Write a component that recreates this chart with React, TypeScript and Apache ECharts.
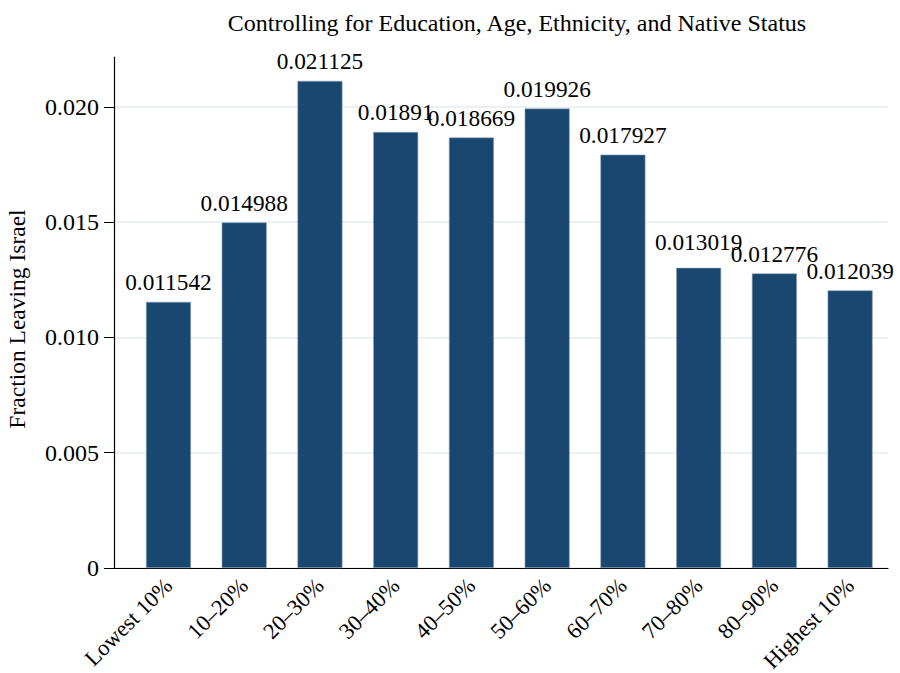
import React, { useEffect, useRef } from "react";
import * as echarts from "echarts";

const categories = ["Lowest 10%", "10–20%", "20–30%", "30–40%", "40–50%", "50–60%", "60–70%", "70–80%", "80–90%", "Highest 10%"];
const values = [0.011542, 0.014988, 0.021125, 0.01891, 0.018669, 0.019926, 0.017927, 0.013019, 0.012776, 0.012039];
const valueLabels = ["0.011542", "0.014988", "0.021125", "0.01891", "0.018669", "0.019926", "0.017927", "0.013019", "0.012776", "0.012039"];
const yTicks = [0, 0.005, 0.01, 0.015, 0.02];
const yTickLabels = ["0", "0.005", "0.010", "0.015", "0.020"];
const yTitle = "Fraction Leaving Israel";

const FONT = "'Liberation Serif', 'Times New Roman', serif";

export default function App() {
  const ref = useRef<HTMLDivElement>(null);
  useEffect(() => {
    const chart = echarts.init(ref.current!, null, { renderer: "svg" });
    const barData = values.map((v, i) =>
      i === 7 ? { value: v, label: { distance: 14 } } : { value: v }
    );
    chart.setOption({
      animation: false,
      backgroundColor: "#ffffff",
      textStyle: { fontFamily: FONT },
      title: {
        text: "Controlling for Education, Age, Ethnicity, and Native Status",
        left: 512,
        top: 6,
        textAlign: "center",
        textStyle: { fontFamily: FONT, fontSize: 24, fontWeight: "normal", color: "#000" },
      },
      graphic: [
        {
          type: "text",
          x: 17,
          y: 319,
          rotation: Math.PI / 2,
          style: {
            text: yTitle,
            fontFamily: FONT,
            fontSize: 23.5,
            fill: "#000",
            align: "center",
            verticalAlign: "middle",
          },
        },
      ],
      grid: [
        { left: 130.6, right: 12, top: 57, bottom: 105, outerBoundsMode: "none", containLabel: false },
        { left: 114, right: 12, top: 106.7, bottom: 105, outerBoundsMode: "none", containLabel: false },
      ],
      xAxis: [
        {
          type: "category",
          gridIndex: 0,
          data: categories,
          axisLine: { show: false },
          axisTick: { show: false },
          axisLabel: { rotate: 45, fontSize: 22.5, color: "#000", fontFamily: FONT, margin: 14, interval: 0 },
        },
        {
          type: "value",
          gridIndex: 1,
          min: 0,
          max: 1,
          axisLine: { show: true, lineStyle: { color: "#000", width: 1.2 } },
          axisTick: { show: false },
          axisLabel: { show: false },
          splitLine: { show: false },
        },
      ],
      yAxis: [
        {
          type: "value",
          gridIndex: 0,
          min: 0,
          max: 0.02216,
          offset: 16.6,
          axisLine: { show: true, lineStyle: { color: "#000", width: 1.2 } },
          axisTick: { show: true, length: 10, lineStyle: { color: "#000" }, customValues: yTicks },
          axisLabel: {
            customValues: yTicks,
            fontSize: 24,
            color: "#000",
            fontFamily: FONT,
            margin: 15,
            formatter: (v: number) => {
              const i = yTicks.findIndex((t) => Math.abs(t - v) < 1e-9);
              return i >= 0 ? yTickLabels[i] : "";
            },
          },
          splitLine: { show: false },
        },
        {
          type: "value",
          gridIndex: 1,
          min: 0,
          max: 0.02,
          interval: 0.005,
          axisLine: { show: false },
          axisTick: { show: false },
          axisLabel: { show: false },
          splitLine: { show: true, lineStyle: { color: "#e6eef1", width: 1.5 } },
        },
      ],
      series: [
        {
          type: "bar",
          xAxisIndex: 0,
          yAxisIndex: 0,
          data: barData,
          barWidth: 45,
          itemStyle: { color: "#1a476f", borderColor: "#8ea5bb", borderWidth: 0.6 },
          label: {
            show: true,
            position: "top",
            distance: 8,
            fontSize: 23.3,
            color: "#000",
            fontFamily: FONT,
            formatter: (p: any) => valueLabels[p.dataIndex],
          },
        },
      ],
    });
    return () => chart.dispose();
  }, []);
  return <div ref={ref} style={{ width: 900, height: 673, position: "absolute", left: 0, top: 0 }} />;
}
